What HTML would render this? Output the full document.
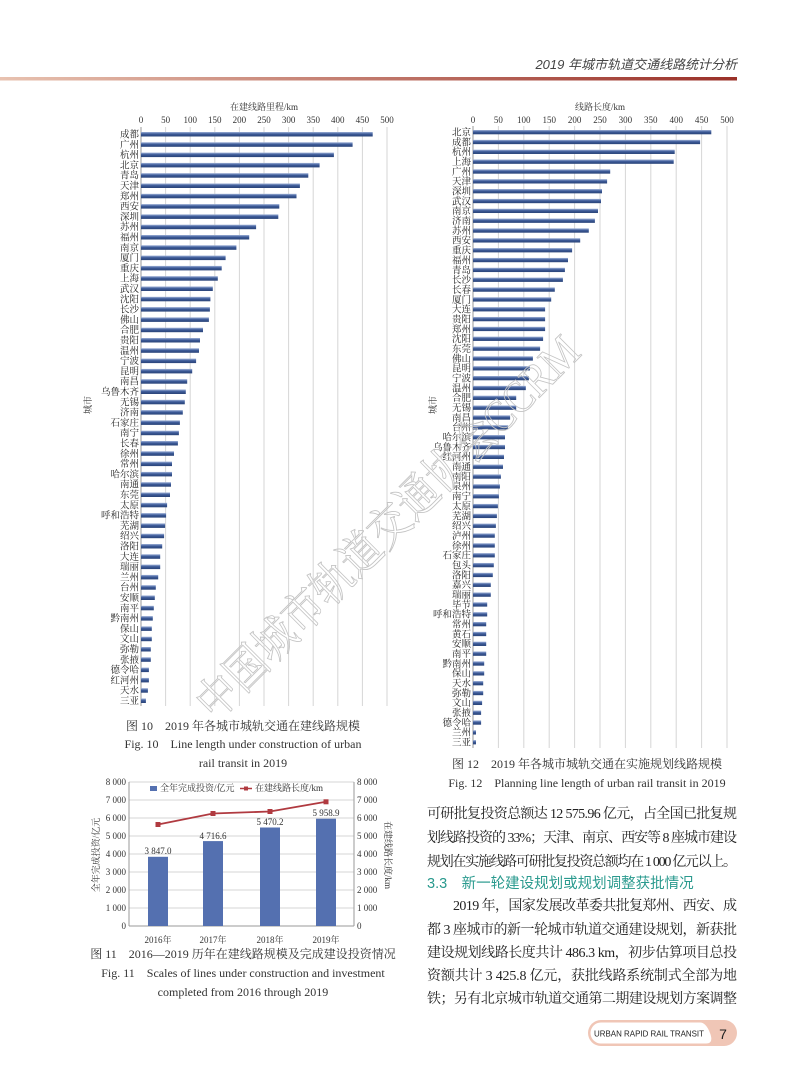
<!DOCTYPE html>
<html><head><meta charset="utf-8"><style>
html,body{margin:0;padding:0;background:#fff;}
svg{display:block;}
.c{font-family:"Liberation Serif","Noto Serif CJK SC",serif;font-size:9.5px;fill:#222;text-anchor:end;}
.t{font-family:"Liberation Serif","Noto Serif CJK SC",serif;font-size:9px;fill:#333;text-anchor:middle;}
.b{font-family:"Liberation Serif","Noto Serif CJK SC",serif;font-size:14px;fill:#222;}
.cap{font-family:"Liberation Serif","Noto Serif CJK SC",serif;font-size:12px;fill:#333;text-anchor:middle;}
.g{stroke:#d6d6d6;stroke-width:1;}
</style></head><body>
<svg width="800" height="1086" viewBox="0 0 800 1086" xmlns="http://www.w3.org/2000/svg">
<defs>
<linearGradient id="hl" x1="0" x2="1" y1="0" y2="0"><stop offset="0" stop-color="#e8c2b0"/><stop offset="1" stop-color="#9a3028"/></linearGradient>
<linearGradient id="bar" x1="0" x2="0" y1="0" y2="1"><stop offset="0" stop-color="#9fb2d8"/><stop offset="0.45" stop-color="#3c5a98"/><stop offset="1" stop-color="#2a4478"/></linearGradient>
</defs>
<text x="737" y="69" text-anchor="end" font-family="Liberation Sans,Noto Sans CJK SC,sans-serif" font-size="13" font-style="italic" fill="#444">2019 年城市轨道交通线路统计分析</text>
<rect x="0" y="77" width="737" height="3.5" fill="url(#hl)"/>

<!-- LEFT CHART -->
<text x="264" y="110" class="t" font-size="9.5">在建线路里程/km</text>
<g class="t">
<text x="141" y="123">0</text><text x="165.6" y="123">50</text><text x="190.2" y="123">100</text><text x="214.8" y="123">150</text><text x="239.4" y="123">200</text><text x="264" y="123">250</text><text x="288.6" y="123">300</text><text x="313.2" y="123">350</text><text x="337.8" y="123">400</text><text x="362.4" y="123">450</text><text x="387" y="123">500</text>
</g>
<g>
<line class="g" x1="165.6" y1="127" x2="165.6" y2="706"/><line class="g" x1="190.2" y1="127" x2="190.2" y2="706"/><line class="g" x1="214.8" y1="127" x2="214.8" y2="706"/><line class="g" x1="239.4" y1="127" x2="239.4" y2="706"/><line class="g" x1="264" y1="127" x2="264" y2="706"/><line class="g" x1="288.6" y1="127" x2="288.6" y2="706"/><line class="g" x1="313.2" y1="127" x2="313.2" y2="706"/><line class="g" x1="337.8" y1="127" x2="337.8" y2="706"/><line class="g" x1="362.4" y1="127" x2="362.4" y2="706"/><line class="g" x1="387" y1="127" x2="387" y2="706"/>
<line x1="141" y1="127" x2="141" y2="706" stroke="#999"/>
</g>
<text transform="translate(91,405) rotate(-90)" class="t" font-size="9.5">城市</text>
<g fill="url(#bar)">
<rect x="141" y="132" width="231.7" height="4.5"/><rect x="141" y="142.3" width="211.6" height="4.5"/><rect x="141" y="152.6" width="192.9" height="4.5"/><rect x="141" y="162.9" width="178.6" height="4.5"/><rect x="141" y="173.2" width="167.3" height="4.5"/><rect x="141" y="183.5" width="158.9" height="4.5"/><rect x="141" y="193.8" width="155.5" height="4.5"/><rect x="141" y="204.1" width="138.3" height="4.5"/><rect x="141" y="214.4" width="137.3" height="4.5"/><rect x="141" y="224.7" width="115.1" height="4.5"/><rect x="141" y="235" width="108.2" height="4.5"/><rect x="141" y="245.3" width="95.4" height="4.5"/><rect x="141" y="255.6" width="84.6" height="4.5"/><rect x="141" y="265.9" width="80.7" height="4.5"/><rect x="141" y="276.2" width="76.8" height="4.5"/><rect x="141" y="286.5" width="71.8" height="4.5"/><rect x="141" y="296.8" width="69.4" height="4.5"/><rect x="141" y="307.1" width="68.9" height="4.5"/><rect x="141" y="317.4" width="67.9" height="4.5"/><rect x="141" y="327.7" width="62" height="4.5"/><rect x="141" y="338" width="59" height="4.5"/><rect x="141" y="348.3" width="58" height="4.5"/><rect x="141" y="358.6" width="55.1" height="4.5"/><rect x="141" y="368.9" width="51.2" height="4.5"/><rect x="141" y="379.2" width="46.2" height="4.5"/><rect x="141" y="389.5" width="44.8" height="4.5"/><rect x="141" y="399.8" width="43.8" height="4.5"/><rect x="141" y="410.1" width="41.8" height="4.5"/><rect x="141" y="420.4" width="38.9" height="4.5"/><rect x="141" y="430.7" width="37.9" height="4.5"/><rect x="141" y="441" width="36.9" height="4.5"/><rect x="141" y="451.3" width="33" height="4.5"/><rect x="141" y="461.6" width="31" height="4.5"/><rect x="141" y="471.9" width="31" height="4.5"/><rect x="141" y="482.2" width="30" height="4.5"/><rect x="141" y="492.5" width="29" height="4.5"/><rect x="141" y="502.8" width="26.1" height="4.5"/><rect x="141" y="513.1" width="25.1" height="4.5"/><rect x="141" y="523.4" width="24.1" height="4.5"/><rect x="141" y="533.7" width="23.1" height="4.5"/><rect x="141" y="544" width="21.2" height="4.5"/><rect x="141" y="554.3" width="19.2" height="4.5"/><rect x="141" y="564.6" width="19.2" height="4.5"/><rect x="141" y="574.9" width="17.2" height="4.5"/><rect x="141" y="585.2" width="14.8" height="4.5"/><rect x="141" y="595.5" width="13.8" height="4.5"/><rect x="141" y="605.8" width="12.8" height="4.5"/><rect x="141" y="616.1" width="11.8" height="4.5"/><rect x="141" y="626.4" width="10.8" height="4.5"/><rect x="141" y="636.7" width="10.8" height="4.5"/><rect x="141" y="647" width="9.8" height="4.5"/><rect x="141" y="657.3" width="9.8" height="4.5"/><rect x="141" y="667.6" width="7.9" height="4.5"/><rect x="141" y="677.9" width="7.9" height="4.5"/><rect x="141" y="688.2" width="6.9" height="4.5"/><rect x="141" y="698.5" width="4.9" height="4.5"/>
</g>
<g class="c">
<text x="139" y="137.5">成都</text><text x="139" y="147.8">广州</text><text x="139" y="158.1">杭州</text><text x="139" y="168.4">北京</text><text x="139" y="178.7">青岛</text><text x="139" y="189">天津</text><text x="139" y="199.3">郑州</text><text x="139" y="209.6">西安</text><text x="139" y="219.9">深圳</text><text x="139" y="230.2">苏州</text><text x="139" y="240.5">福州</text><text x="139" y="250.8">南京</text><text x="139" y="261.1">厦门</text><text x="139" y="271.4">重庆</text><text x="139" y="281.7">上海</text><text x="139" y="292">武汉</text><text x="139" y="302.3">沈阳</text><text x="139" y="312.6">长沙</text><text x="139" y="322.9">佛山</text><text x="139" y="333.2">合肥</text><text x="139" y="343.5">贵阳</text><text x="139" y="353.8">温州</text><text x="139" y="364.1">宁波</text><text x="139" y="374.4">昆明</text><text x="139" y="384.7">南昌</text><text x="139" y="395">乌鲁木齐</text><text x="139" y="405.3">无锡</text><text x="139" y="415.6">济南</text><text x="139" y="425.9">石家庄</text><text x="139" y="436.2">南宁</text><text x="139" y="446.5">长春</text><text x="139" y="456.8">徐州</text><text x="139" y="467.1">常州</text><text x="139" y="477.4">哈尔滨</text><text x="139" y="487.7">南通</text><text x="139" y="498">东莞</text><text x="139" y="508.3">太原</text><text x="139" y="518.6">呼和浩特</text><text x="139" y="528.9">芜湖</text><text x="139" y="539.2">绍兴</text><text x="139" y="549.5">洛阳</text><text x="139" y="559.8">大连</text><text x="139" y="570.1">瑞丽</text><text x="139" y="580.4">兰州</text><text x="139" y="590.7">台州</text><text x="139" y="601">安顺</text><text x="139" y="611.3">南平</text><text x="139" y="621.6">黔南州</text><text x="139" y="631.9">保山</text><text x="139" y="642.2">文山</text><text x="139" y="652.5">弥勒</text><text x="139" y="662.8">张掖</text><text x="139" y="673.1">德令哈</text><text x="139" y="683.4">红河州</text><text x="139" y="693.7">天水</text><text x="139" y="704">三亚</text>
</g>
<text x="243" y="730" class="cap">图 10　2019 年各城市城轨交通在建线路规模</text>
<text x="243" y="748" class="cap">Fig. 10　Line length under construction of urban</text>
<text x="243" y="767" class="cap">rail transit in 2019</text>

<!-- RIGHT CHART -->
<text x="600" y="110" class="t" font-size="9.5">线路长度/km</text>
<g class="t">
<text x="473" y="123">0</text><text x="498.4" y="123">50</text><text x="523.8" y="123">100</text><text x="549.2" y="123">150</text><text x="574.6" y="123">200</text><text x="600" y="123">250</text><text x="625.4" y="123">300</text><text x="650.8" y="123">350</text><text x="676.2" y="123">400</text><text x="701.6" y="123">450</text><text x="727" y="123">500</text>
</g>
<g>
<line class="g" x1="498.4" y1="126" x2="498.4" y2="748"/><line class="g" x1="523.8" y1="126" x2="523.8" y2="748"/><line class="g" x1="549.2" y1="126" x2="549.2" y2="748"/><line class="g" x1="574.6" y1="126" x2="574.6" y2="748"/><line class="g" x1="600" y1="126" x2="600" y2="748"/><line class="g" x1="625.4" y1="126" x2="625.4" y2="748"/><line class="g" x1="650.8" y1="126" x2="650.8" y2="748"/><line class="g" x1="676.2" y1="126" x2="676.2" y2="748"/><line class="g" x1="701.6" y1="126" x2="701.6" y2="748"/><line class="g" x1="727" y1="126" x2="727" y2="748"/>
<line x1="473" y1="126" x2="473" y2="748" stroke="#999"/>
</g>
<text transform="translate(436,405) rotate(-90)" class="t" font-size="9.5">城市</text>
<g fill="url(#bar)">
<rect x="473" y="130" width="238.3" height="4.3"/><rect x="473" y="139.84" width="227.1" height="4.3"/><rect x="473" y="149.68" width="201.7" height="4.3"/><rect x="473" y="159.52" width="200.7" height="4.3"/><rect x="473" y="169.36" width="137.2" height="4.3"/><rect x="473" y="179.2" width="134.1" height="4.3"/><rect x="473" y="189.04" width="129" height="4.3"/><rect x="473" y="198.88" width="128" height="4.3"/><rect x="473" y="208.72" width="125" height="4.3"/><rect x="473" y="218.56" width="121.9" height="4.3"/><rect x="473" y="228.4" width="115.8" height="4.3"/><rect x="473" y="238.24" width="107.2" height="4.3"/><rect x="473" y="248.08" width="99.1" height="4.3"/><rect x="473" y="257.92" width="95" height="4.3"/><rect x="473" y="267.76" width="91.9" height="4.3"/><rect x="473" y="277.6" width="89.9" height="4.3"/><rect x="473" y="287.44" width="81.8" height="4.3"/><rect x="473" y="297.28" width="78.2" height="4.3"/><rect x="473" y="307.12" width="72.1" height="4.3"/><rect x="473" y="316.96" width="72.1" height="4.3"/><rect x="473" y="326.8" width="72.1" height="4.3"/><rect x="473" y="336.64" width="70.1" height="4.3"/><rect x="473" y="346.48" width="67.1" height="4.3"/><rect x="473" y="356.32" width="59.9" height="4.3"/><rect x="473" y="366.16" width="56.9" height="4.3"/><rect x="473" y="376" width="55.9" height="4.3"/><rect x="473" y="385.84" width="52.8" height="4.3"/><rect x="473" y="395.68" width="43.2" height="4.3"/><rect x="473" y="405.52" width="43.2" height="4.3"/><rect x="473" y="415.36" width="37.1" height="4.3"/><rect x="473" y="425.2" width="35.1" height="4.3"/><rect x="473" y="435.04" width="32" height="4.3"/><rect x="473" y="444.88" width="32" height="4.3"/><rect x="473" y="454.72" width="31" height="4.3"/><rect x="473" y="464.56" width="30" height="4.3"/><rect x="473" y="474.4" width="27.9" height="4.3"/><rect x="473" y="484.24" width="26.9" height="4.3"/><rect x="473" y="494.08" width="25.9" height="4.3"/><rect x="473" y="503.92" width="24.9" height="4.3"/><rect x="473" y="513.76" width="23.9" height="4.3"/><rect x="473" y="523.6" width="22.9" height="4.3"/><rect x="473" y="533.44" width="21.8" height="4.3"/><rect x="473" y="543.28" width="21.8" height="4.3"/><rect x="473" y="553.12" width="21.8" height="4.3"/><rect x="473" y="562.96" width="20.8" height="4.3"/><rect x="473" y="572.8" width="19.8" height="4.3"/><rect x="473" y="582.64" width="17.8" height="4.3"/><rect x="473" y="592.48" width="17.8" height="4.3"/><rect x="473" y="602.32" width="14.2" height="4.3"/><rect x="473" y="612.16" width="14.2" height="4.3"/><rect x="473" y="622" width="13.2" height="4.3"/><rect x="473" y="631.84" width="13.2" height="4.3"/><rect x="473" y="641.68" width="13.2" height="4.3"/><rect x="473" y="651.52" width="13.2" height="4.3"/><rect x="473" y="661.36" width="11.2" height="4.3"/><rect x="473" y="671.2" width="11.2" height="4.3"/><rect x="473" y="681.04" width="10.2" height="4.3"/><rect x="473" y="690.88" width="10.2" height="4.3"/><rect x="473" y="700.72" width="9.1" height="4.3"/><rect x="473" y="710.56" width="8.1" height="4.3"/><rect x="473" y="720.4" width="8.1" height="4.3"/><rect x="473" y="730.24" width="3" height="4.3"/><rect x="473" y="740.08" width="3" height="4.3"/>
</g>
<g class="c" font-size="9.3">
<text x="471" y="135.5">北京</text><text x="471" y="145.3">成都</text><text x="471" y="155.2">杭州</text><text x="471" y="165">上海</text><text x="471" y="174.9">广州</text><text x="471" y="184.7">天津</text><text x="471" y="194.5">深圳</text><text x="471" y="204.4">武汉</text><text x="471" y="214.2">南京</text><text x="471" y="224.1">济南</text><text x="471" y="233.9">苏州</text><text x="471" y="243.7">西安</text><text x="471" y="253.6">重庆</text><text x="471" y="263.4">福州</text><text x="471" y="273.3">青岛</text><text x="471" y="283.1">长沙</text><text x="471" y="292.9">长春</text><text x="471" y="302.8">厦门</text><text x="471" y="312.6">大连</text><text x="471" y="322.5">贵阳</text><text x="471" y="332.3">郑州</text><text x="471" y="342.1">沈阳</text><text x="471" y="352">东莞</text><text x="471" y="361.8">佛山</text><text x="471" y="371.7">昆明</text><text x="471" y="381.5">宁波</text><text x="471" y="391.3">温州</text><text x="471" y="401.2">合肥</text><text x="471" y="411">无锡</text><text x="471" y="420.9">南昌</text><text x="471" y="430.7">台州</text><text x="471" y="440.5">哈尔滨</text><text x="471" y="450.4">乌鲁木齐</text><text x="471" y="460.2">红河州</text><text x="471" y="470.1">南通</text><text x="471" y="479.9">南阳</text><text x="471" y="489.7">泉州</text><text x="471" y="499.6">南宁</text><text x="471" y="509.4">太原</text><text x="471" y="519.3">芜湖</text><text x="471" y="529.1">绍兴</text><text x="471" y="538.9">泸州</text><text x="471" y="548.8">徐州</text><text x="471" y="558.6">石家庄</text><text x="471" y="568.5">包头</text><text x="471" y="578.3">洛阳</text><text x="471" y="588.1">嘉兴</text><text x="471" y="598">瑞丽</text><text x="471" y="607.8">毕节</text><text x="471" y="617.7">呼和浩特</text><text x="471" y="627.5">常州</text><text x="471" y="637.3">黄石</text><text x="471" y="647.2">安顺</text><text x="471" y="657">南平</text><text x="471" y="666.9">黔南州</text><text x="471" y="676.7">保山</text><text x="471" y="686.5">天水</text><text x="471" y="696.4">弥勒</text><text x="471" y="706.2">文山</text><text x="471" y="716.1">张掖</text><text x="471" y="725.9">德令哈</text><text x="471" y="735.7">兰州</text><text x="471" y="745.6">三亚</text>
</g>
<text x="587" y="768" class="cap">图 12　2019 年各城市城轨交通在实施规划线路规模</text>
<text x="587" y="787" class="cap">Fig. 12　Planning line length of urban rail transit in 2019</text>

<!-- BOTTOM CHART -->
<g>
<line class="g" x1="129" y1="782" x2="354" y2="782"/><line class="g" x1="129" y1="800" x2="354" y2="800"/><line class="g" x1="129" y1="818" x2="354" y2="818"/><line class="g" x1="129" y1="836" x2="354" y2="836"/><line class="g" x1="129" y1="854" x2="354" y2="854"/><line class="g" x1="129" y1="872" x2="354" y2="872"/><line class="g" x1="129" y1="890" x2="354" y2="890"/><line class="g" x1="129" y1="908" x2="354" y2="908"/>
<line x1="129" y1="782" x2="129" y2="926" stroke="#999"/><line x1="354" y1="782" x2="354" y2="926" stroke="#999"/><line x1="129" y1="926" x2="354" y2="926" stroke="#999"/>
</g>
<g class="t" style="text-anchor:end" font-size="8.5">
<text x="126" y="785">8 000</text><text x="126" y="803">7 000</text><text x="126" y="821">6 000</text><text x="126" y="839">5 000</text><text x="126" y="857">4 000</text><text x="126" y="875">3 000</text><text x="126" y="893">2 000</text><text x="126" y="911">1 000</text><text x="126" y="929">0</text>
</g>
<g class="t" style="text-anchor:start" font-size="8.5">
<text x="357" y="785">8 000</text><text x="357" y="803">7 000</text><text x="357" y="821">6 000</text><text x="357" y="839">5 000</text><text x="357" y="857">4 000</text><text x="357" y="875">3 000</text><text x="357" y="893">2 000</text><text x="357" y="911">1 000</text><text x="357" y="929">0</text>
</g>
<g fill="#5470b0">
<rect x="148" y="856.8" width="20" height="69.2"/><rect x="203" y="841.1" width="20" height="84.9"/><rect x="260" y="827.5" width="20" height="98.5"/><rect x="316" y="818.7" width="20" height="107.3"/>
</g>
<g class="t" font-size="9.5">
<text x="158" y="854">3 847.0</text><text x="213" y="839">4 716.6</text><text x="270" y="825">5 470.2</text><text x="326" y="816">5 958.9</text>
</g>
<polyline points="158,824.5 213,813.5 270,811.5 326,801.8" fill="none" stroke="#b03a40" stroke-width="1.8"/>
<g fill="#b03a40"><rect x="155.5" y="822" width="5" height="5"/><rect x="210.5" y="811" width="5" height="5"/><rect x="267.5" y="809" width="5" height="5"/><rect x="323.5" y="799.3" width="5" height="5"/></g>
<rect x="150" y="786" width="7" height="5" fill="#5470b0"/>
<text x="160" y="791" class="t" style="text-anchor:start" font-size="9.5">全年完成投资/亿元</text>
<line x1="240" y1="788.5" x2="252" y2="788.5" stroke="#b03a40" stroke-width="1.5"/><rect x="244" y="786.5" width="4" height="4" fill="#b03a40"/>
<text x="255" y="791" class="t" style="text-anchor:start" font-size="9.5">在建线路长度/km</text>
<g class="t" font-size="9">
<text x="158" y="943">2016年</text><text x="213" y="943">2017年</text><text x="270" y="943">2018年</text><text x="326" y="943">2019年</text>
</g>
<text transform="translate(99,855) rotate(-90)" class="t" font-size="9.5">全年完成投资/亿元</text>
<text transform="translate(385,855) rotate(90)" class="t" font-size="9.5">在建线路长度/km</text>
<text x="243" y="958" class="cap">图 11　2016—2019 历年在建线路规模及完成建设投资情况</text>
<text x="243" y="977" class="cap">Fig. 11　Scales of lines under construction and investment</text>
<text x="243" y="996" class="cap">completed from 2016 through 2019</text>

<!-- BODY TEXT -->
<text x="427" y="818" class="b" textLength="310" lengthAdjust="spacing">可研批复投资总额达 12 575.96 亿元，占全国已批复规</text>
<text x="427" y="842" class="b" textLength="310" lengthAdjust="spacing">划线路投资的 33%；天津、南京、西安等 8 座城市建设</text>
<text x="427" y="866" class="b" textLength="310" lengthAdjust="spacing">规划在实施线路可研批复投资总额均在 1 000 亿元以上。</text>
<text x="427" y="888" font-family="Liberation Sans,Noto Sans CJK SC,sans-serif" font-size="14.5" fill="#2a9a8e">3.3　新一轮建设规划或规划调整获批情况</text>
<text x="453" y="910" class="b" textLength="284" lengthAdjust="spacing">2019 年，国家发展改革委共批复郑州、西安、成</text>
<text x="427" y="934" class="b" textLength="310" lengthAdjust="spacing">都 3 座城市的新一轮城市轨道交通建设规划，新获批</text>
<text x="427" y="957" class="b" textLength="310" lengthAdjust="spacing">建设规划线路长度共计 486.3 km，初步估算项目总投</text>
<text x="427" y="980" class="b" textLength="310" lengthAdjust="spacing">资额共计 3 425.8 亿元，获批线路系统制式全部为地</text>
<text x="427" y="1003" class="b" textLength="310" lengthAdjust="spacing">铁；另有北京城市轨道交通第二期建设规划方案调整</text>

<!-- WATERMARK -->
<text transform="translate(215,722) rotate(-45)" font-family="Liberation Serif,Noto Serif CJK SC,serif" font-size="46" fill="none" stroke="#c4c4c4" stroke-width="0.9" textLength="520" lengthAdjust="spacingAndGlyphs">中国城市轨道交通协会CCRM</text>

<!-- FOOTER -->
<rect x="588" y="1020" width="149" height="26" rx="13" fill="#f0c6b6"/>
<path d="M601,1022.5 H700 Q706,1022.5 710,1033 Q714,1043.5 706,1043.5 H601 A10.5,10.5 0 0 1 601,1022.5 Z" fill="#fff"/>
<text x="594" y="1036.5" font-family="Liberation Sans,sans-serif" font-size="8.5" fill="#222" textLength="110" lengthAdjust="spacingAndGlyphs">URBAN RAPID RAIL TRANSIT</text>
<text x="723" y="1039" font-family="Liberation Sans,sans-serif" font-size="14" fill="#222" text-anchor="middle">7</text>
</svg>
</body></html>
